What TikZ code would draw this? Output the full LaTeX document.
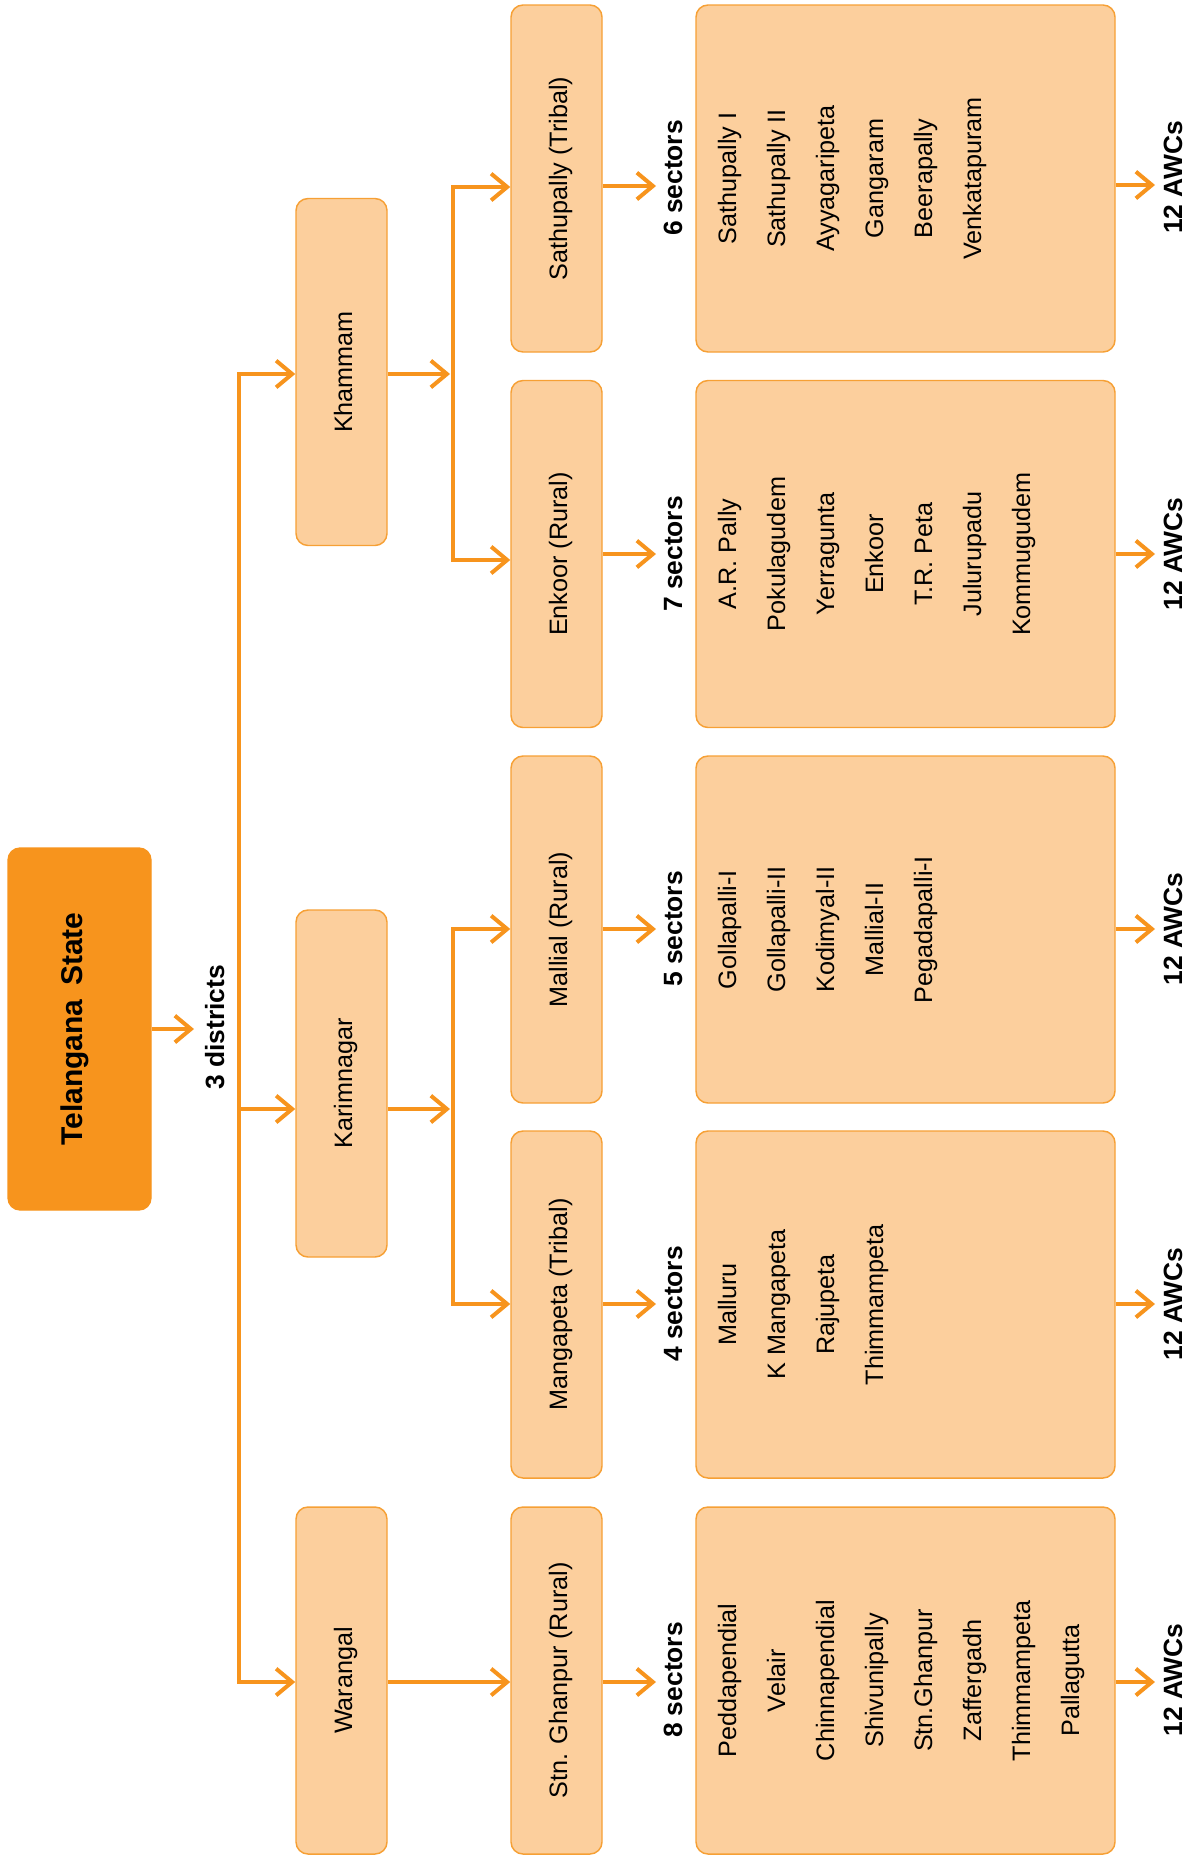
\documentclass[tikz,border=0pt]{standalone}
\usepackage{fontspec}
\setmainfont{Liberation Sans}
\usetikzlibrary{arrows.meta}
\definecolor{orn}{HTML}{F7941D}
\definecolor{edge}{HTML}{F6A035}
\definecolor{peach}{HTML}{FCCF9D}
\begin{document}
\begin{tikzpicture}[x=0.75pt,y=-0.75pt,
  box/.style={draw=edge, fill=peach, line width=1.1pt, rounded corners=9pt, inner sep=0pt},
  dbox/.style={box, rotate=90, minimum width=260.25pt, minimum height=68.25pt,
     font=\fontsize{18.9}{20}\selectfont, text height=15.75pt, text depth=0pt},
  lbox/.style={box, minimum width=314.25pt, minimum height=260.25pt},
  item/.style={rotate=90, anchor=base, inner sep=0pt, font=\fontsize{18.9}{20}\selectfont},
  blbl/.style={rotate=90, anchor=base, inner sep=0pt, font=\fontsize{19.8}{21}\selectfont\bfseries},
  con/.style={draw=orn, line width=3pt},
  arr/.style={con, -{Straight Barb[length=12pt,width=20pt]}},
  arrs/.style={con, {Straight Barb[length=12pt,width=20pt]}-{Straight Barb[length=12pt,width=20pt]}},
]
\useasboundingbox (0,0) rectangle (1199,1856);

% state
\node[draw=orn, fill=orn, line width=1pt, rounded corners=9pt, inner sep=0pt, rotate=90,
  minimum width=271.5pt, minimum height=107.25pt,
  font=\fontsize{22.5}{24}\selectfont\bfseries, text height=3.75pt, text depth=0pt]
  (ts) at (79.5,1029) {Telangana\hspace{4pt} State};
\coordinate (c3) at (194,1029);
\draw[arr] (ts) -- (c3);
\node[blbl] (l3) at (224,1027.5) {3 districts};

% districts (rotated: north = screen left, south = screen right)
\node[dbox] (kh) at (341.5,372) {Khammam};
\node[dbox] (ka) at (341.5,1083.5) {Karimnagar};
\node[dbox] (wa) at (341.5,1680.5) {Warangal};

\coordinate (jk) at (239,374);
\coordinate (jm) at (239,1109);
\coordinate (jw) at (239,1682);
\draw[arrs] (jk -| kh.north) -- (jk) -- (jw) -- (jw -| wa.north);
\draw[arr] (jm) -- (jm -| ka.north);

% blocks
\node[dbox] (sa) at (556.5,178.5) {Sathupally (Tribal)};
\node[dbox] (en) at (556.5,554) {Enkoor (Rural)};
\node[dbox] (ml) at (556.5,929.5) {Mallial (Rural)};
\node[dbox] (mg) at (556.5,1304.5) {Mangapeta (Tribal)};
\node[dbox] (sg) at (556.5,1680.5) {Stn. Ghanpur (Rural)};

% Khammam branches
\coordinate (kt) at (450,374);
\coordinate (ks) at (453,187);
\coordinate (ke) at (453,560);
\draw[arr] (kh.south |- kt) -- (kt);
\draw[arrs] (ks -| sa.north) -- (ks) -- (ke) -- (ke -| en.north);

% Karimnagar branches
\coordinate (mt) at (450,1109);
\coordinate (ms) at (453,929);
\coordinate (me) at (453,1304);
\draw[arr] (ka.south |- mt) -- (mt);
\draw[arrs] (ms -| ml.north) -- (ms) -- (me) -- (me -| mg.north);

% Warangal branch
\draw[arr] (wa.south |- jw) -- (jw -| sg.north);

% sector lists
\node[lbox] (la) at (905.5,178.5) {};
\node[lbox] (lb) at (905.5,554) {};
\node[lbox] (lc) at (905.5,929.5) {};
\node[lbox] (ld) at (905.5,1304.5) {};
\node[lbox] (le) at (905.5,1680.5) {};

\foreach [count=\i from 0] \t in {Sathupally I,Sathupally II,Ayyagaripeta,Gangaram,Beerapally,Venkatapuram}
  \node[item] (ia\i) at ({736+49*\i},178.5) {\t};
\foreach [count=\i from 0] \t in {A.R. Pally,Pokulagudem,Yerragunta,Enkoor,T.R. Peta,Julurupadu,Kommugudem}
  \node[item] (ib\i) at ({736+49*\i},554) {\t};
\foreach [count=\i from 0] \t in {Gollapalli-I,Gollapalli-II,Kodimyal-II,Mallial-II,Pegadapalli-I}
  \node[item] (ic\i) at ({736+49*\i},929.5) {\t};
\foreach [count=\i from 0] \t in {Malluru,K Mangapeta,Rajupeta,Thimmampeta}
  \node[item] (id\i) at ({736+49*\i},1304.5) {\t};
\foreach [count=\i from 0] \t in {Peddapendial,Velair,Chinnapendial,Shivunipally,Stn.Ghanpur,Zaffergadh,Thimmampeta,Pallagutta}
  \node[item] (ie\i) at ({736+49*\i},1680.5) {\t};

% sectors labels and arrows
\coordinate (sa6) at (656,186);
\coordinate (en7) at (656,554);
\coordinate (ml5) at (656,929);
\coordinate (mg4) at (656,1304);
\coordinate (sg8) at (656,1682);
\draw[arr] (sa.south |- sa6) -- (sa6);
\draw[arr] (en.south |- en7) -- (en7);
\draw[arr] (ml.south |- ml5) -- (ml5);
\draw[arr] (mg.south |- mg4) -- (mg4);
\draw[arr] (sg.south |- sg8) -- (sg8);
\node[blbl] (s6) at (682,178) {6 sectors};
\node[blbl] (s7) at (682,554) {7 sectors};
\node[blbl] (s5) at (682,929) {5 sectors};
\node[blbl] (s4) at (682,1304) {4 sectors};
\node[blbl] (s8) at (682,1680) {8 sectors};

% AWC labels and arrows
\coordinate (wa1) at (1155,185);
\coordinate (wa2) at (1155,554);
\coordinate (wa3) at (1155,929);
\coordinate (wa4) at (1155,1304);
\coordinate (wa5) at (1155,1682);
\draw[arr] (la.east |- wa1) -- (wa1);
\draw[arr] (lb.east |- wa2) -- (wa2);
\draw[arr] (lc.east |- wa3) -- (wa3);
\draw[arr] (ld.east |- wa4) -- (wa4);
\draw[arr] (le.east |- wa5) -- (wa5);
\node[blbl] (aw1) at (1182,177.5) {12 AWCs};
\node[blbl] (aw2) at (1182,554) {12 AWCs};
\node[blbl] (aw3) at (1182,929) {12 AWCs};
\node[blbl] (aw4) at (1182,1304) {12 AWCs};
\node[blbl] (aw5) at (1182,1680) {12 AWCs};
\end{tikzpicture}
\end{document}
